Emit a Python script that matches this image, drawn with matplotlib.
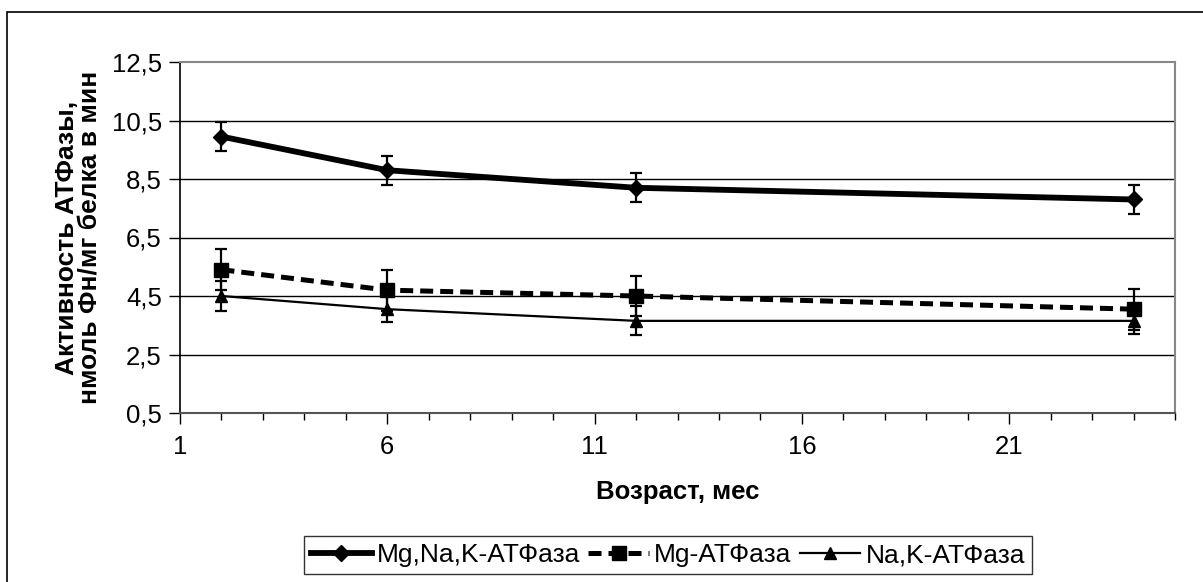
import matplotlib
matplotlib.use("Agg")
import matplotlib.pyplot as plt
from matplotlib.patches import Rectangle
from matplotlib.lines import Line2D
from matplotlib.ticker import MultipleLocator, FixedLocator

plt.rcParams['font.family'] = ['Liberation Sans', 'DejaVu Sans']

# возраст, мес
age = [2, 6, 12, 24]

mgnak = [9.95, 8.8, 8.2, 7.8]
mgnak_err = [0.5, 0.5, 0.5, 0.5]

mg = [5.4, 4.7, 4.5, 4.05]
mg_err = [0.7, 0.7, 0.7, 0.7]

nak = [4.5, 4.05, 3.65, 3.65]
nak_err = [0.5, 0.45, 0.5, 0.45]

labels = ["Mg,Na,K-АТФаза", "Mg-АТФаза", "Na,K-АТФаза"]
yticks = [0.5, 2.5, 4.5, 6.5, 8.5, 10.5, 12.5]
xticks = [1, 6, 11, 16, 21]

styles = [
    dict(linewidth=4.2, linestyle='-', marker='D', markersize=8),
    dict(linewidth=3.6, linestyle=(0, (2.6, 1.4)), marker='s', markersize=10),
    dict(linewidth=1.6, linestyle='-', marker='^', markersize=9),
]

fig = plt.figure(figsize=(12.03, 5.82), dpi=100)
ax = fig.add_axes([180/1203, 1 - 413/582, 995/1203, 351/582])

# рамка вокруг диаграммы
fig.patches.append(Rectangle((7/1203, -0.05), 1.2, 1 - 12/582 + 0.05,
                             transform=fig.transFigure, fill=False,
                             edgecolor='black', linewidth=1.2))

for yv in yticks[1:-1]:
    ax.axhline(yv, color='black', linewidth=1.0, zorder=1)

series = [(mgnak, mgnak_err), (mg, mg_err), (nak, nak_err)]
handles = []
for (vals, err), st, lab, z in zip(series, styles, labels, [4, 3, 3]):
    ax.errorbar(age, vals, yerr=err, color='black', capsize=4,
                elinewidth=1.6, capthick=1.6, zorder=z, **st)
    handles.append(Line2D([], [], color='black', **st))

ax.set_xlim(1, 25)
ax.set_ylim(0.5, 12.5)
ax.yaxis.set_major_locator(FixedLocator(yticks))
ax.set_yticklabels([str(v).replace('.', ',') for v in yticks])
ax.xaxis.set_major_locator(FixedLocator(xticks))
ax.xaxis.set_minor_locator(MultipleLocator(1))
ax.set_xticklabels([str(v) for v in xticks])

ax.tick_params(axis='y', direction='out', length=8, width=1, labelsize=18.5,
               pad=5)
ax.tick_params(axis='x', which='major', direction='out', length=8, width=1,
               labelsize=18.5, pad=8)
ax.tick_params(axis='x', which='minor', direction='out', length=5, width=1)

ax.spines['left'].set_color('black')
ax.spines['bottom'].set_color('#555555')
ax.spines['top'].set_color('#888888')
ax.spines['right'].set_color('#888888')
for s in ax.spines.values():
    s.set_linewidth(1.5)
ax.spines['left'].set_linewidth(1.2)

ax.set_xlabel("Возраст, мес", fontsize=18.5, fontweight='bold', labelpad=15)
ax.set_ylabel("Активность АТФазы,\nнмоль Фн/мг белка в мин", fontsize=19,
              fontweight='bold', labelpad=7, linespacing=0.95)

fig.legend(handles=handles, labels=labels, loc='center',
           bbox_to_anchor=(668/1203, 1 - 555/582), ncol=3,
           prop={'family': ['Liberation Sans Narrow', 'Liberation Sans'],
                 'size': 19},
           frameon=True, fancybox=False, edgecolor='#333333', framealpha=1,
           handlelength=2.3, handletextpad=0.2, columnspacing=0.3,
           borderpad=0.25, borderaxespad=0)

fig.savefig("out.png", dpi=100)
